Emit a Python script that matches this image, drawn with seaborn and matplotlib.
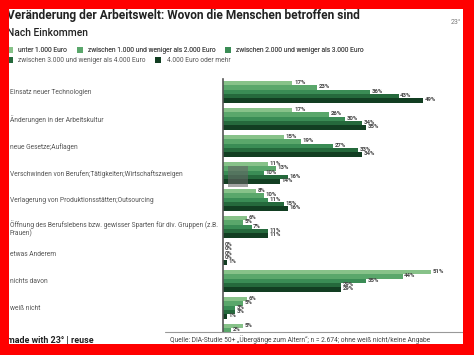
import matplotlib.pyplot as plt
import matplotlib.patches as mpatches
import pandas as pd
import seaborn as sns

categories = [
    "Einsatz neuer Technologien",
    "Änderungen in der Arbeitskultur",
    "neue Gesetze;Auflagen",
    "Verschwinden von Berufen;Tätigkeiten;Wirtschaftszweigen",
    "Verlagerung von Produktionsstätten;Outsourcing",
    "Öffnung des Berufslebens bzw. gewisser Sparten für div. Gruppen (z.B.\nFrauen)",
    "etwas Anderem",
    "nichts davon",
    "weiß nicht",
    "keine Angabe",
]
groups = [
    "unter 1.000 Euro",
    "zwischen 1.000 und weniger als 2.000 Euro",
    "zwischen 2.000 und weniger als 3.000 Euro",
    "zwischen 3.000 und weniger als 4.000 Euro",
    "4.000 Euro oder mehr",
]
unter_1000 = [17, 17, 15, 11, 8, 6, 0, 51, 6, 5]
bis_2000 = [23, 26, 19, 13, 10, 5, 0, 44, 5, 2]
bis_3000 = [36, 30, 27, 10, 11, 7, 0, 35, 3, 2]
bis_4000 = [43, 34, 33, 16, 15, 11, 0, 29, 3, 2]
ab_4000 = [49, 35, 34, 14, 16, 11, 1, 29, 1, 1]
colors = ["#7dcc80", "#4db464", "#2d9950", "#1a7438", "#0b4520"]

series = [unter_1000, bis_2000, bis_3000, bis_4000, ab_4000]
rows = []
for g, vals in zip(groups, series):
    for c, v in zip(categories, vals):
        rows.append({"Kategorie": c, "Einkommen": g, "Wert": v})
df = pd.DataFrame(rows)

W, H = 474, 355
def fx(px):
    return px / W
def fy(py):
    return 1 - py / H

sns.set_style("white")
plt.rcParams["font.family"] = ["Roboto", "DejaVu Sans"]

fig = plt.figure(figsize=(4.74, 3.55), dpi=100)
fig.patch.set_facecolor("white")
ax = fig.add_axes([fx(223), fy(332), fx(463) - fx(223), fy(79) - fy(332)])

sns.barplot(data=df, y="Kategorie", x="Wert", hue="Einkommen", orient="h",
            palette=colors, width=0.8, linewidth=0, ax=ax, legend=True)

handles, labels = ax.get_legend_handles_labels()
ax.get_legend().remove()

ymax = 8.89
ax.set_xlim(0, 58.8)
ax.set_ylim(ymax, -0.48)
ax.set_xlabel("")
ax.set_ylabel("")
ax.set_xticks([])
for s in ["top", "right", "bottom"]:
    ax.spines[s].set_visible(False)
ax.spines["left"].set_color("#555555")
ax.spines["left"].set_linewidth(1.2)

ax.tick_params(axis="y", length=0, pad=(223 - 10) * 0.72, labelsize=4.8,
               labelcolor="#555555")
for t in ax.get_yticklabels():
    t.set_ha("left")

for cont in ax.containers:
    for bar in cont:
        w = bar.get_width()
        y = bar.get_y() + bar.get_height() / 2
        if y > ymax - 0.03:
            continue
        ax.text(w + 0.4, y - 0.03, f"{w:.0f}%", fontsize=4.3, fontweight="bold",
                color="#444444", va="center", ha="left", clip_on=True)

# legend in two flowing rows
leg_kw = dict(loc="upper left", frameon=False, fontsize=4.8,
              handlelength=0.9, handleheight=0.9, handletextpad=0.8,
              columnspacing=1.4, borderaxespad=0, borderpad=0)
leg1 = fig.legend(handles[:3], labels[:3], ncol=3, bbox_to_anchor=(fx(7), fy(47)), **leg_kw)
leg2 = fig.legend(handles[3:], labels[3:], ncol=2, bbox_to_anchor=(fx(7), fy(57)), **leg_kw)
for lg in (leg1, leg2):
    for t in lg.get_texts():
        t.set_color("#555555")
fig.add_artist(leg1)

fig.text(fx(7), fy(15), "Veränderung der Arbeitswelt: Wovon die Menschen betroffen sind",
         fontsize=8.6, fontweight="bold", color="#222222", va="center", ha="left")
fig.text(fx(7), fy(33), "Nach Einkommen", fontsize=7.4, fontweight="medium",
         color="#222222", va="center", ha="left")
fig.text(fx(456), fy(22), "23°", fontsize=5, color="#777777", va="center", ha="center")

# footer
fig.add_artist(plt.Line2D([fx(165), fx(463)], [fy(332), fy(332)],
                          transform=fig.transFigure, color="#999999", lw=0.8))
fig.text(fx(7), fy(341), "made with 23° | reuse", fontsize=6.4, fontweight="bold",
         color="#222222", va="center", ha="left")
fig.text(fx(170), fy(340),
         "Quelle: DIA-Studie 50+ „Übergänge zum Altern“; n = 2.674; ohne weiß nicht/keine Angabe",
         fontsize=4.8, color="#444444", va="center", ha="left")

# tooltip shadow artefact
fig.add_artist(mpatches.Rectangle((fx(228), fy(187)), fx(248) - fx(228), fy(166) - fy(187),
                                  transform=fig.transFigure, facecolor="#666666",
                                  alpha=0.6, edgecolor="none", zorder=5))

# red frame
red = "#ff0000"
for x0, y0, x1, y1 in [(0, 0, 474, 9), (0, 0, 9, 355), (463, 0, 474, 355), (0, 344, 474, 355)]:
    fig.add_artist(mpatches.Rectangle((fx(x0), fy(y1)), fx(x1) - fx(x0), fy(y0) - fy(y1),
                                      transform=fig.transFigure, facecolor=red,
                                      edgecolor="none", zorder=10))

fig.savefig("out.png", dpi=100)
